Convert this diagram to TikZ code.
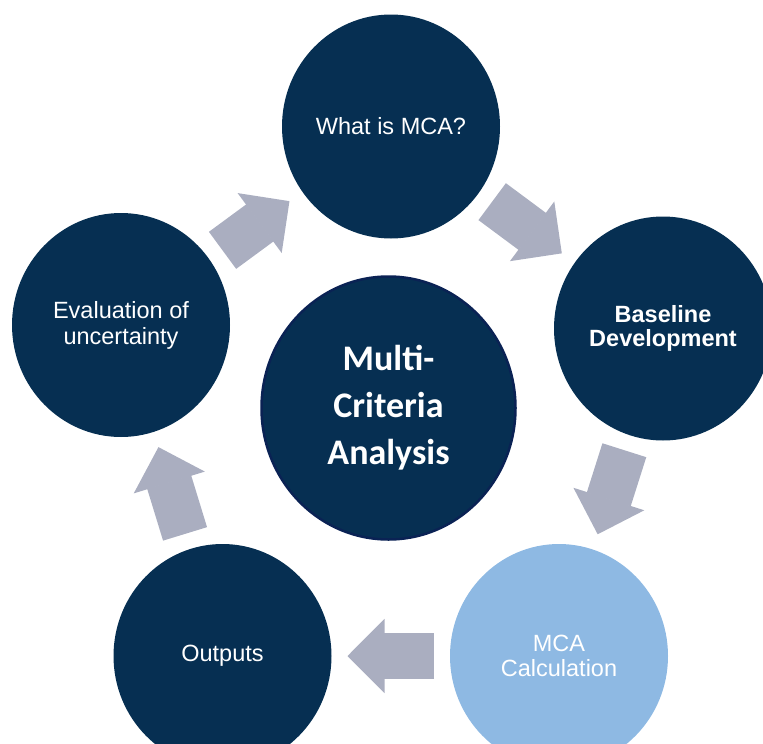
\documentclass[tikz,border=0pt]{standalone}
\usepackage{fontspec}
\setmainfont{Liberation Sans}
\newfontfamily\calibri{Carlito}
\usetikzlibrary{shapes.geometric,arrows.meta}
\definecolor{navy}{RGB}{6,47,82}
\definecolor{navyedge}{RGB}{10,34,84}
\definecolor{skyblue}{RGB}{142,185,227}
\definecolor{arrowgrey}{RGB}{170,174,192}

\begin{document}
\begin{tikzpicture}[x=1pt,y=-1pt,
  stage/.style={ellipse, minimum width=218pt, minimum height=224pt, inner sep=0pt, outer sep=0pt,
    fill=navy, text=white, align=center, font=\fontsize{23.5}{25}\selectfont},
  flow/.style={draw=arrowgrey, line width=46pt, shorten <=16pt, shorten >=16pt,
    -{Triangle[width=74pt,length=37pt,line width=2pt]}}]

\useasboundingbox (0,0) rectangle (763,744);
\clip (0,0) rectangle (763,744);

\node[stage] (whatis)   at (391,126.5) {What is MCA?};
\node[stage, font=\fontsize{23.5}{24}\selectfont\bfseries] (baseline) at (663,328.5) {Baseline\\Development};
\node[stage, fill=skyblue] (calc) at (559,656) {MCA\\Calculation};
\node[stage] (outputs)  at (222.5,656) {Outputs};
\node[stage, font=\fontsize{23.5}{26}\selectfont] (uncert) at (121,325) {Evaluation of\\uncertainty};

% centre circle
\node[ellipse, minimum width=254pt, minimum height=263pt, inner sep=0pt, outer sep=0pt,
  fill=navy, draw=navyedge, line width=2.5pt, text=white, align=center,
  font=\calibri\bfseries\fontsize{36}{47}\selectfont] (mca) at (388.5,408) {Multi-\\Criteria\\Analysis};

\draw[flow] (whatis) -- (baseline);
\draw[flow] (baseline) -- (calc);
\draw[flow] (calc) -- (outputs);
\draw[flow] (outputs) -- (uncert);
\draw[flow] (uncert) -- (whatis);
\end{tikzpicture}
\end{document}
